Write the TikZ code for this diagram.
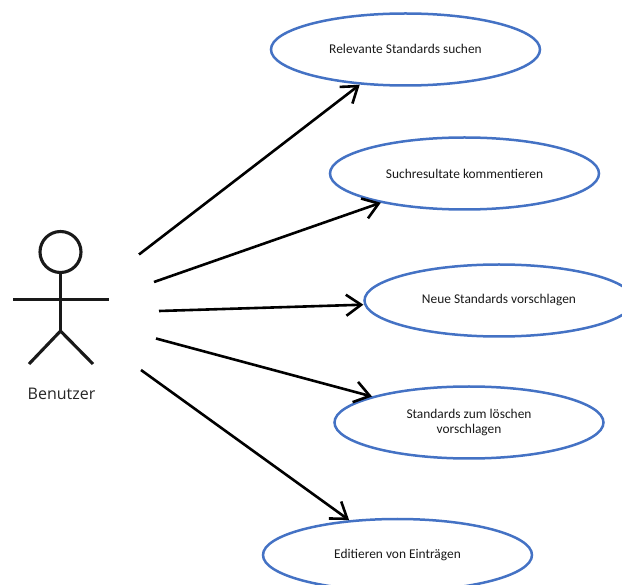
\documentclass[tikz,border=0pt]{standalone}
\usepackage{fontspec}
\setmainfont{Carlito}
\newfontfamily\actorfont{Open Sans}
\usetikzlibrary{shapes.geometric,arrows.meta}
\definecolor{usecaseblue}{HTML}{4472C4}
\tikzset{
  usecase/.style={ellipse,draw=usecaseblue,line width=2.5pt,minimum width=269pt,minimum height=72pt,inner sep=0pt,outer sep=0pt,align=center,font=\fontsize{13.4}{14.3}\selectfont,text=black!90},
  assoc/.style={line width=2.6pt,draw=black,-{Straight Barb[length=15pt,width=21pt,line width=2.6pt]},shorten >=2pt},
  stick/.style={line width=3.1pt,draw=black!90}
}
\begin{document}
\begin{tikzpicture}[x=1pt,y=-1pt]
\useasboundingbox (0,0) rectangle (622,585);
\node[usecase] (e1) at (405.5,49.5) {\raisebox{2pt}{Relevante Standards suchen}};
\node[usecase] (e2) at (464.5,173.5) {\raisebox{0pt}{Suchresultate kommentieren}};
\node[usecase] (e3) at (499,300.5) {\raisebox{1pt}{Neue Standards vorschlagen}};
\node[usecase] (e4) at (469,422.5) {Standards zum löschen\\vorschlagen};
\node[usecase] (e5) at (397.5,555) {\raisebox{1pt}{Editieren von Einträgen}};
\node[circle,draw=black!90,line width=3.1pt,minimum size=41pt,inner sep=0pt,outer sep=0pt] (head) at (60.5,252) {};
\coordinate (hip) at (60.5,331);
\coordinate (lh) at (13,299.5);
\coordinate (rh) at (109,299.5);
\coordinate (lf) at (29,364);
\coordinate (rf) at (93,364);
\draw[stick] (head.south) -- (hip);
\draw[stick] (lh) -- (rh);
\draw[stick] (lf) -- (hip) -- (rf);
\node[font=\actorfont\fontsize{16}{18}\selectfont,text=black!85,inner sep=0pt] (lbl) at (61.5,394) {Benutzer};
\coordinate (s1) at (139,254.5);
\coordinate (s2) at (154,282);
\coordinate (s3) at (159,311);
\coordinate (s4) at (156,338.5);
\coordinate (s5) at (141,370);
\draw[assoc] (s1) -- (e1);
\draw[assoc] (s2) -- (e2);
\draw[assoc] (s3) -- (e3);
\draw[assoc] (s4) -- (e4.165.2);
\draw[assoc] (s5) -- (e5);
\end{tikzpicture}
\end{document}
